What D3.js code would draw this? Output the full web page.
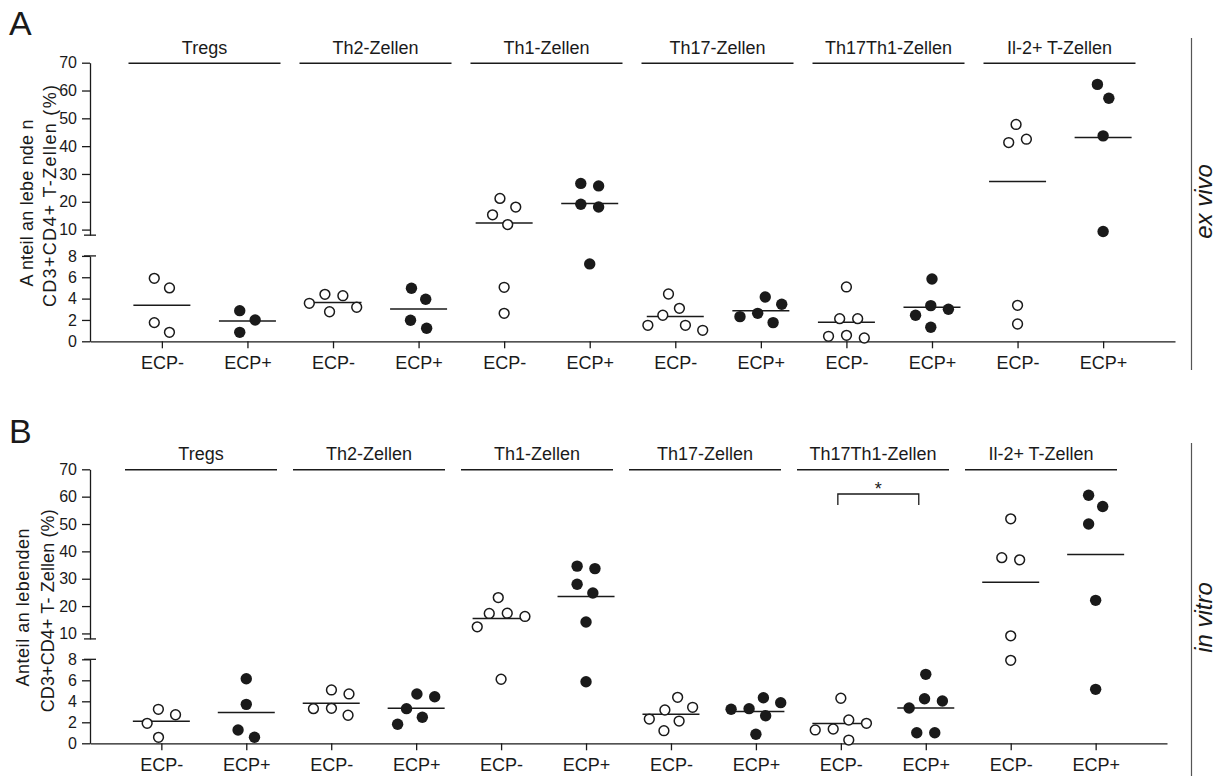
<!DOCTYPE html>
<html>
<head>
<meta charset="utf-8">
<script src="https://cdn.jsdelivr.net/npm/d3@7"></script>
<style>
  body { margin: 0; background: #fff; }
  svg { display: block; font-family: "Liberation Sans", Arial, sans-serif; }
</style>
</head>
<body>
<svg id="chart" width="1222" height="776"></svg>
<script>
// ---- categories and tick labels ----
const groups = ["Tregs", "Th2-Zellen", "Th1-Zellen", "Th17-Zellen", "Th17Th1-Zellen", "Il-2+ T-Zellen"];
const treatments = ["ECP-", "ECP+"];
const yTicksLower = [0, 2, 4, 6, 8];
const yTicksUpper = [10, 20, 30, 40, 50, 60, 70];
const yBreak = 8;   // lower segment 0–8, upper segment 8–70
const yMax = 70;

// ---- ex vivo, % of living CD3+CD4+ T cells, one array per group ----
const exVivoNeg = [
  [5.9, 5.0, 1.75, 0.84],
  [4.4, 4.27, 3.56, 3.19, 2.77],
  [21.2, 18.1, 15.3, 11.8, 5.06, 2.62],
  [4.43, 3.09, 2.44, 1.5, 1.5, 1.03],
  [5.09, 2.12, 2.12, 0.56, 0.47, 0.31],
  [47.8, 42.5, 41.3, 3.37, 1.62]
];
const exVivoPos = [
  [2.87, 2.0, 0.84],
  [4.97, 3.94, 1.97, 1.22],
  [26.6, 25.7, 19.1, 18.1, 7.25],
  [4.15, 3.47, 2.62, 2.31, 1.75],
  [5.84, 3.34, 3.0, 2.44, 1.31],
  [62.2, 57.2, 43.7, 9.3]
];

// ---- in vitro ----
const inVitroNeg = [
  [3.24, 2.72, 1.9, 0.57],
  [5.08, 4.7, 3.33, 3.3, 2.67],
  [23.1, 17.4, 17.3, 16.2, 12.4, 6.1],
  [4.38, 3.43, 3.17, 2.31, 2.12, 1.2],
  [4.29, 2.22, 1.9, 1.36, 1.27, 0.31],
  [51.9, 37.7, 36.9, 9.13, 7.9]
];
const inVitroPos = [
  [6.15, 3.71, 1.27, 0.57],
  [4.7, 4.44, 3.3, 2.48, 1.81],
  [34.6, 33.7, 28.0, 24.8, 14.2, 5.87],
  [4.34, 3.87, 3.3, 3.24, 2.63, 0.86],
  [6.57, 4.25, 4.03, 3.36, 1.01, 1.01],
  [60.5, 56.4, 50.0, 22.1, 5.14]
];

const ink = "#1a1a1a";
const svg = d3.select("#chart");

// Horizontal spreading of points that would overlap (simple beeswarm),
// each chain of touching points is centred on the category.
function dodge(ys, D) {
  const xs = [];
  ys.forEach((yy, i) => {
    const iv = [];
    for (let j = 0; j < i; j++) {
      const dy = Math.abs(yy - ys[j]);
      if (dy < D) {
        const w = Math.sqrt(D * D - dy * dy);
        iv.push([xs[j] - w, xs[j] + w]);
      }
    }
    const cands = [0].concat(iv.flat());
    const ok = c => iv.every(([a, b]) => c <= a + 1e-6 || c >= b - 1e-6);
    let best = null;
    cands.filter(ok).forEach(c => {
      if (best === null || Math.abs(c) < Math.abs(best) - 1e-6 ||
          (Math.abs(Math.abs(c) - Math.abs(best)) < 1e-6 && c > best)) best = c;
    });
    xs.push(best);
  });
  const order = d3.range(ys.length).sort((a, b) => ys[a] - ys[b]);
  let start = 0;
  for (let k = 1; k <= order.length; k++) {
    if (k === order.length || ys[order[k]] - ys[order[k - 1]] >= D) {
      const idx = order.slice(start, k);
      const ext = d3.extent(idx, i => xs[i]);
      const mid = (ext[0] + ext[1]) / 2;
      idx.forEach(i => { xs[i] -= mid; });
      start = k;
    }
  }
  return xs;
}

function drawPanel(p) {
  const g = svg.append("g");
  const keys = groups.flatMap(gr => treatments.map(t => gr + "|" + t));
  const x = d3.scalePoint(keys, p.xRange).padding(0.84);
  const H = p.bottom - p.top;
  const lower = d3.scaleLinear([0, yBreak], [p.bottom, p.bottom - H * 0.3065]);
  const upper = d3.scaleLinear([yBreak, yMax], [p.top + H * 0.619, p.top]);
  const y = v => (v <= yBreak ? lower(v) : upper(v));
  const x0 = p.xRange[0];

  // panel letter
  g.append("text").attr("x", 9).attr("y", p.letterY)
    .attr("font-size", 34).attr("fill", ink).text(p.letter);

  // y axis, two segments with a break
  [[lower, yTicksLower], [upper, yTicksUpper]].forEach(([sc, tv]) => {
    const ax = g.append("g").attr("transform", `translate(${x0},0)`)
      .call(d3.axisLeft(sc).tickValues(tv).tickSize(8).tickPadding(5).tickSizeOuter(0));
    ax.attr("font-family", null).attr("font-size", 16);
    ax.selectAll("path, line").attr("stroke", ink).attr("stroke-width", 1.3);
    ax.selectAll("text").attr("fill", ink);
  });
  [upper(yBreak), lower(yBreak)].forEach(yy => {
    g.append("line").attr("x1", x0 - 6).attr("x2", x0 + 6)
      .attr("y1", yy).attr("y2", yy).attr("stroke", ink).attr("stroke-width", 1.3);
  });

  // x axis
  const xa = g.append("g").attr("transform", `translate(0,${p.bottom})`)
    .call(d3.axisBottom(x).tickSize(7).tickPadding(7.5).tickSizeOuter(0)
      .tickFormat(k => k.split("|")[1]));
  xa.attr("font-family", null).attr("font-size", 18);
  xa.selectAll("path, line").attr("stroke", ink).attr("stroke-width", 1.3);
  xa.selectAll("text").attr("fill", ink);

  // y axis title
  p.yTitle.forEach(t => {
    g.append("text").attr("transform", `translate(${t.x},${t.y}) rotate(-90)`)
      .attr("text-anchor", "middle").attr("font-size", 18).attr("fill", ink)
      .attr("textLength", t.len).attr("lengthAdjust", "spacing").text(t.text);
  });

  // group headers
  const hx = d3.scalePoint(groups, p.headerRange);
  groups.forEach(gr => {
    g.append("line").attr("x1", hx(gr) - 76).attr("x2", hx(gr) + 76)
      .attr("y1", p.top + 0.5).attr("y2", p.top + 0.5)
      .attr("stroke", ink).attr("stroke-width", 1.4);
    g.append("text").attr("x", hx(gr)).attr("y", p.top - 9)
      .attr("text-anchor", "middle").attr("font-size", 18).attr("fill", ink).text(gr);
  });

  // points and mean lines
  groups.forEach((gr, i) => {
    [[p.neg[i], "ECP-"], [p.pos[i], "ECP+"]].forEach(([vals, t]) => {
      const cx = x(gr + "|" + t);
      const m = d3.mean(vals);
      g.append("line").attr("x1", cx - 28.5).attr("x2", cx + 28.5)
        .attr("y1", y(m)).attr("y2", y(m)).attr("stroke", ink).attr("stroke-width", 1.5);
      const ys = vals.map(y);
      const offs = dodge(ys, 18);
      const filled = t === "ECP+";
      g.selectAll(null).data(vals).join("circle")
        .attr("cx", (d, k) => cx + offs[k])
        .attr("cy", d => y(d))
        .attr("r", filled ? 5.7 : 4.9)
        .attr("fill", filled ? ink : "#fff")
        .attr("stroke", ink)
        .attr("stroke-width", filled ? 0 : 1.5);
    });
  });

  // side label with rule
  g.append("line").attr("x1", 1191.5).attr("x2", 1191.5)
    .attr("y1", p.side.y1).attr("y2", p.side.y2).attr("stroke", "#555").attr("stroke-width", 1.2);
  g.append("text").attr("transform", `translate(1212,${p.side.cy}) rotate(-90)`)
    .attr("text-anchor", "middle").attr("font-size", 24).attr("font-style", "italic")
    .attr("fill", ink).text(p.side.text);

  return { x, y };
}

drawPanel({
  letter: "A", letterY: 35,
  neg: exVivoNeg, pos: exVivoPos,
  top: 62.7, bottom: 341.3, xRange: [90, 1175], headerRange: [204.5, 1059.5],
  yTitle: [
    { text: "A nteil an lebe nde n", x: 33, y: 203, len: 167 },
    { text: "CD3+CD4+ T-Zellen (%)", x: 56, y: 196, len: 222 }
  ],
  side: { text: "ex vivo", y1: 38, y2: 370, cy: 201.5 }
});

const pb = drawPanel({
  letter: "B", letterY: 443,
  neg: inVitroNeg, pos: inVitroPos,
  top: 469.3, bottom: 743.3, xRange: [90, 1167], headerRange: [201, 1041],
  yTitle: [
    { text: "Anteil an lebenden", x: 28.5, y: 607.5, len: 158 },
    { text: "CD3+CD4+ T- Zellen (%)", x: 53.5, y: 610.8, len: 203 }
  ],
  side: { text: "in vitro", y1: 443, y2: 776, cy: 617.5 }
});

// significance bracket, Th17Th1 ECP- vs ECP+ in vitro
const bx1 = pb.x("Th17Th1-Zellen|ECP-") - 3;
const bx2 = pb.x("Th17Th1-Zellen|ECP+") - 7;
svg.append("path")
  .attr("d", `M${bx1},505V494H${bx2}V505`)
  .attr("fill", "none").attr("stroke", ink).attr("stroke-width", 1.3);
svg.append("text").attr("x", (bx1 + bx2) / 2).attr("y", 495)
  .attr("text-anchor", "middle").attr("font-size", 18).attr("fill", ink).text("*");
</script>
</body>
</html>
